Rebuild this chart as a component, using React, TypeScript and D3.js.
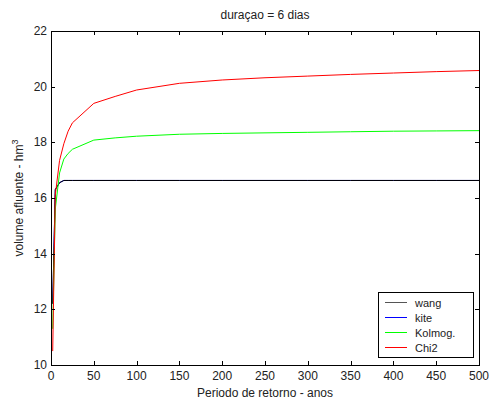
import React from "react";
import * as d3 from "d3";

// Return periods (years) and volume estimates (hm³) per method
const periods = [2, 5, 10, 15, 20, 25, 50, 75, 100, 150, 200, 250, 300, 350, 400, 450, 500];
const wang = [12.2, 16.3, 16.55, 16.63, 16.63, 16.63, 16.63, 16.63, 16.63, 16.63, 16.63, 16.63, 16.63, 16.63, 16.63, 16.63, 16.63];
const kite = [12.2, 16.3, 16.55, 16.63, 16.63, 16.63, 16.63, 16.63, 16.63, 16.63, 16.63, 16.63, 16.63, 16.63, 16.63, 16.63, 16.63];
const kolmog = [11.3, 15.6, 16.9, 17.4, 17.6, 17.75, 18.08, 18.16, 18.22, 18.29, 18.32, 18.34, 18.36, 18.38, 18.4, 18.41, 18.42];
const chi2 = [10.5, 16.1, 17.35, 17.95, 18.4, 18.7, 19.4, 19.65, 19.88, 20.12, 20.24, 20.32, 20.38, 20.44, 20.49, 20.54, 20.58];

const xTicks = [0, 50, 100, 150, 200, 250, 300, 350, 400, 450, 500];
const yTicks = [10, 12, 14, 16, 18, 20, 22];

const series = [
  { name: "kite", values: kite, color: "#0000ff", legend: "#0000ff" },
  { name: "wang", values: wang, color: "#000000", legend: "#555555" },
  { name: "Kolmog.", values: kolmog, color: "#00ff00", legend: "#00ff00" },
  { name: "Chi2", values: chi2, color: "#ff0000", legend: "#ff0000" },
];
const legendOrder = ["wang", "kite", "Kolmog.", "Chi2"];

const W = 495;
const H = 405;
const L = 51, R = 479, T = 31, B = 365;

export default function App() {
  const x = d3.scaleLinear().domain([0, 500]).range([L, R]);
  const y = d3.scaleLinear().domain([10, 22]).range([B, T]);
  const line = d3
    .line<number>()
    .x((_, i) => x(periods[i]))
    .y((v) => y(v));
  const font = "Liberation Sans, Arial, sans-serif";
  const tk = 4;

  return (
    <svg
      width={W}
      height={H}
      style={{ position: "absolute", left: 0, top: 0, background: "#fff" }}
      fontFamily={font}
    >
      <rect x={0} y={0} width={W} height={H} fill="#fff" />
      <g>
        {series.map((s) => (
          <path key={s.name} d={line(s.values) || ""} fill="none" stroke={s.color} strokeWidth={1} />
        ))}
      </g>
      {/* frame */}
      <rect x={L + 0.5} y={T + 0.5} width={R - L} height={B - T} fill="none" stroke="#000" strokeWidth={1} />
      {/* x ticks */}
      {xTicks.map((t) => (
        <g key={"x" + t}>
          <line x1={Math.round(x(t)) + 0.5} x2={Math.round(x(t)) + 0.5} y1={B} y2={B - tk} stroke="#000" />
          <line x1={Math.round(x(t)) + 0.5} x2={Math.round(x(t)) + 0.5} y1={T} y2={T + tk} stroke="#000" />
          <text x={x(t)} y={B + 15} fontSize={12} textAnchor="middle" fill="#222">
            {t}
          </text>
        </g>
      ))}
      {/* y ticks */}
      {yTicks.map((t) => (
        <g key={"y" + t}>
          <line x1={L} x2={L + tk} y1={Math.round(y(t)) + 0.5} y2={Math.round(y(t)) + 0.5} stroke="#000" />
          <line x1={R} x2={R - tk} y1={Math.round(y(t)) + 0.5} y2={Math.round(y(t)) + 0.5} stroke="#000" />
          <text x={L - 4} y={y(t) + 4} fontSize={12} textAnchor="end" fill="#222">
            {t}
          </text>
        </g>
      ))}
      <text x={265} y={19} fontSize={12} textAnchor="middle" fill="#222">
        duraçao = 6 dias
      </text>
      <text x={(L + R) / 2} y={397} fontSize={12} textAnchor="middle" fill="#222">
        Periodo de retorno - anos
      </text>
      <text transform={`translate(23, ${(T + B) / 2}) rotate(-90)`} fontSize={12} textAnchor="middle" fill="#222">
        volume afluente - hm<tspan dy={-5} fontSize={9}>3</tspan>
      </text>
      {/* legend */}
      <g>
        <rect x={378.5} y={292.5} width={95} height={65} fill="#fff" stroke="#000" />
        {legendOrder.map((n, i) => {
          const s = series.find((d) => d.name === n)!;
          const yy = 302.5 + i * 15;
          return (
            <g key={n}>
              <line x1={385} x2={407} y1={yy} y2={yy} stroke={s.legend} shapeRendering="crispEdges" />
              <text x={415} y={yy + 4} fontSize={11} fill="#222">
                {n}
              </text>
            </g>
          );
        })}
      </g>
    </svg>
  );
}
